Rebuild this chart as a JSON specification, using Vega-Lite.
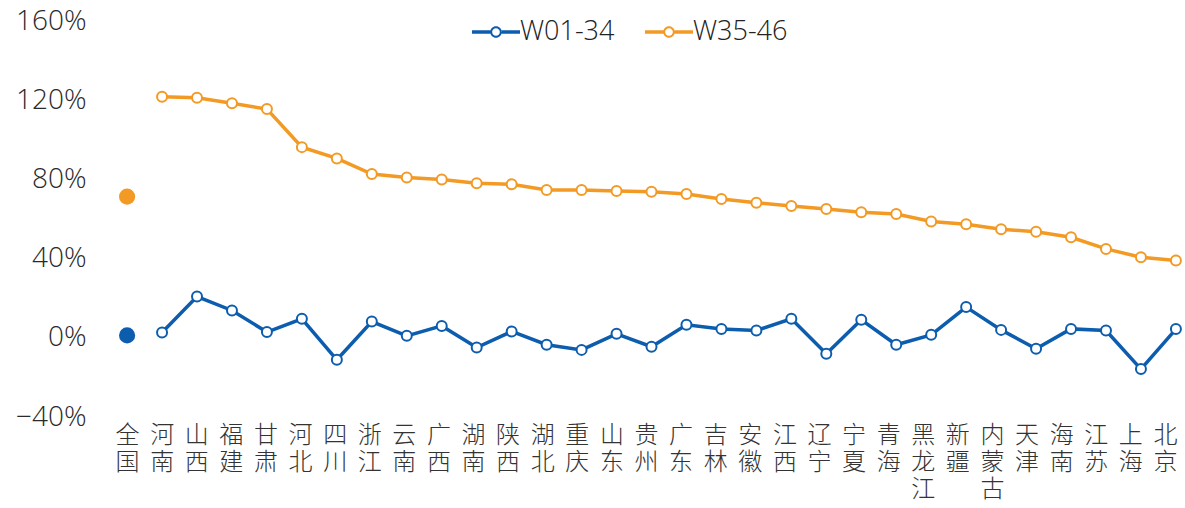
{
  "$schema": "https://vega.github.io/schema/vega-lite/v6.json",
  "autosize": {"type": "none"},
  "width": 1067,
  "height": 396,
  "padding": {"left": 118, "top": 21, "right": 0, "bottom": 91},
  "background": "white",
  "config": {
    "view": {"stroke": null},
    "axis": {"grid": false, "domain": false, "ticks": false}
  },
  "data": {
    "values": [
      {"region": "全国", "series": "W01-34", "value": 1.2},
      {"region": "河南", "series": "W01-34", "value": 2.7},
      {"region": "山西", "series": "W01-34", "value": 20.8},
      {"region": "福建", "series": "W01-34", "value": 13.8},
      {"region": "甘肃", "series": "W01-34", "value": 2.9},
      {"region": "河北", "series": "W01-34", "value": 9.6},
      {"region": "四川", "series": "W01-34", "value": -11.1},
      {"region": "浙江", "series": "W01-34", "value": 8.2},
      {"region": "云南", "series": "W01-34", "value": 1.0},
      {"region": "广西", "series": "W01-34", "value": 6.0},
      {"region": "湖南", "series": "W01-34", "value": -4.9},
      {"region": "陕西", "series": "W01-34", "value": 3.2},
      {"region": "湖北", "series": "W01-34", "value": -3.5},
      {"region": "重庆", "series": "W01-34", "value": -6.1},
      {"region": "山东", "series": "W01-34", "value": 2.0},
      {"region": "贵州", "series": "W01-34", "value": -4.5},
      {"region": "广东", "series": "W01-34", "value": 6.6},
      {"region": "吉林", "series": "W01-34", "value": 4.4},
      {"region": "安徽", "series": "W01-34", "value": 3.7},
      {"region": "江西", "series": "W01-34", "value": 9.6},
      {"region": "辽宁", "series": "W01-34", "value": -8.1},
      {"region": "宁夏", "series": "W01-34", "value": 9.1},
      {"region": "青海", "series": "W01-34", "value": -3.5},
      {"region": "黑龙江", "series": "W01-34", "value": 1.5},
      {"region": "新疆", "series": "W01-34", "value": 15.5},
      {"region": "内蒙古", "series": "W01-34", "value": 4.0},
      {"region": "天津", "series": "W01-34", "value": -5.5},
      {"region": "海南", "series": "W01-34", "value": 4.5},
      {"region": "江苏", "series": "W01-34", "value": 3.7},
      {"region": "上海", "series": "W01-34", "value": -15.8},
      {"region": "北京", "series": "W01-34", "value": 4.4},
      {"region": "全国", "series": "W35-46", "value": 71.3},
      {"region": "河南", "series": "W35-46", "value": 121.7},
      {"region": "山西", "series": "W35-46", "value": 121.2},
      {"region": "福建", "series": "W35-46", "value": 118.5},
      {"region": "甘肃", "series": "W35-46", "value": 115.5},
      {"region": "河北", "series": "W35-46", "value": 96.3},
      {"region": "四川", "series": "W35-46", "value": 90.6},
      {"region": "浙江", "series": "W35-46", "value": 82.7},
      {"region": "云南", "series": "W35-46", "value": 81.0},
      {"region": "广西", "series": "W35-46", "value": 80.0},
      {"region": "湖南", "series": "W35-46", "value": 78.0},
      {"region": "陕西", "series": "W35-46", "value": 77.5},
      {"region": "湖北", "series": "W35-46", "value": 74.6},
      {"region": "重庆", "series": "W35-46", "value": 74.6},
      {"region": "山东", "series": "W35-46", "value": 74.1},
      {"region": "贵州", "series": "W35-46", "value": 73.8},
      {"region": "广东", "series": "W35-46", "value": 72.6},
      {"region": "吉林", "series": "W35-46", "value": 70.1},
      {"region": "安徽", "series": "W35-46", "value": 68.2},
      {"region": "江西", "series": "W35-46", "value": 66.6},
      {"region": "辽宁", "series": "W35-46", "value": 65.1},
      {"region": "宁夏", "series": "W35-46", "value": 63.4},
      {"region": "青海", "series": "W35-46", "value": 62.5},
      {"region": "黑龙江", "series": "W35-46", "value": 58.7},
      {"region": "新疆", "series": "W35-46", "value": 57.3},
      {"region": "内蒙古", "series": "W35-46", "value": 54.8},
      {"region": "天津", "series": "W35-46", "value": 53.6},
      {"region": "海南", "series": "W35-46", "value": 50.8},
      {"region": "江苏", "series": "W35-46", "value": 44.9},
      {"region": "上海", "series": "W35-46", "value": 40.7},
      {"region": "北京", "series": "W35-46", "value": 39.0}
    ]
  },
  "encoding": {
    "x": {
      "field": "region",
      "type": "nominal",
      "sort": null,
      "scale": {
        "type": "point",
        "padding": 0.26,
        "domain": ["全国", "河南", "山西", "福建", "甘肃", "河北", "四川", "浙江", "云南", "广西", "湖南", "陕西", "湖北", "重庆", "山东", "贵州", "广东", "吉林", "安徽", "江西", "辽宁", "宁夏", "青海", "黑龙江", "新疆", "内蒙古", "天津", "海南", "江苏", "上海", "北京"]
      },
      "axis": {
        "title": null,
        "labelAngle": 0,
        "labelExpr": "split(datum.label, '')",
        "labelFont": "Noto Sans CJK SC",
        "labelFontWeight": 300,
        "labelFontSize": 24,
        "labelLineHeight": 27,
        "labelColor": "#333333",
        "labelBaseline": "top",
        "labelPadding": 6,
        "labelOverlap": false,
        "labelBound": false,
        "encoding": {"labels": {"dx": {"value": {"expr": "-11 * datum.index"}}}}
      }
    },
    "y": {
      "field": "value",
      "type": "quantitative",
      "scale": {"domain": [-40, 160], "nice": false, "zero": false},
      "axis": {
        "title": null,
        "values": [-40, 0, 40, 80, 120, 160],
        "labelExpr": "(datum.value < 0 ? '−' : '') + abs(datum.value) + '%'",
        "labelFont": "Open Sans",
        "labelFontWeight": 300,
        "labelFontSize": 28,
        "labelColor": "#2a2a2a",
        "labelPadding": 32,
        "labelBaseline": "middle"
      }
    }
  },
  "layer": [
    {
      "transform": [{"filter": "datum.region !== '全国'"}],
      "mark": {
        "type": "line",
        "strokeWidth": 3.5,
        "point": {"filled": false, "fill": "white", "size": 100, "strokeWidth": 2, "opacity": 1}
      },
      "encoding": {
        "color": {
          "field": "series",
          "type": "nominal",
          "scale": {"domain": ["W01-34", "W35-46"], "range": ["#0D5DAE", "#F39A24"]},
          "legend": {
            "title": null,
            "orient": "none",
            "direction": "horizontal",
            "legendX": 354,
            "legendY": -13,
            "padding": 0,
            "symbolType": "M-1,-0.073L-0.235,-0.073L-0.235,0.073L-1,0.073Z M0.235,-0.073L1,-0.073L1,0.073L0.235,0.073Z M0.24,0A0.24,0.24,0,1,1,-0.24,0A0.24,0.24,0,1,1,0.24,0Z M0.16,0A0.16,0.16,0,1,0,-0.16,0A0.16,0.16,0,1,0,0.16,0Z",
            "symbolSize": 2304,
            "symbolStrokeWidth": 0,
            "labelFont": "Open Sans",
            "labelFontWeight": 300,
            "labelFontSize": 27,
            "labelColor": "#222222",
            "labelOffset": 0,
            "columnPadding": 30
          }
        }
      }
    },
    {
      "transform": [{"filter": "datum.region === '全国'"}],
      "mark": {"type": "point", "filled": true, "size": 260, "opacity": 1, "strokeWidth": 0},
      "encoding": {
        "fill": {
          "field": "series",
          "type": "nominal",
          "scale": {"domain": ["W01-34", "W35-46"], "range": ["#0D5DAE", "#F39A24"]},
          "legend": null
        }
      }
    }
  ]
}
